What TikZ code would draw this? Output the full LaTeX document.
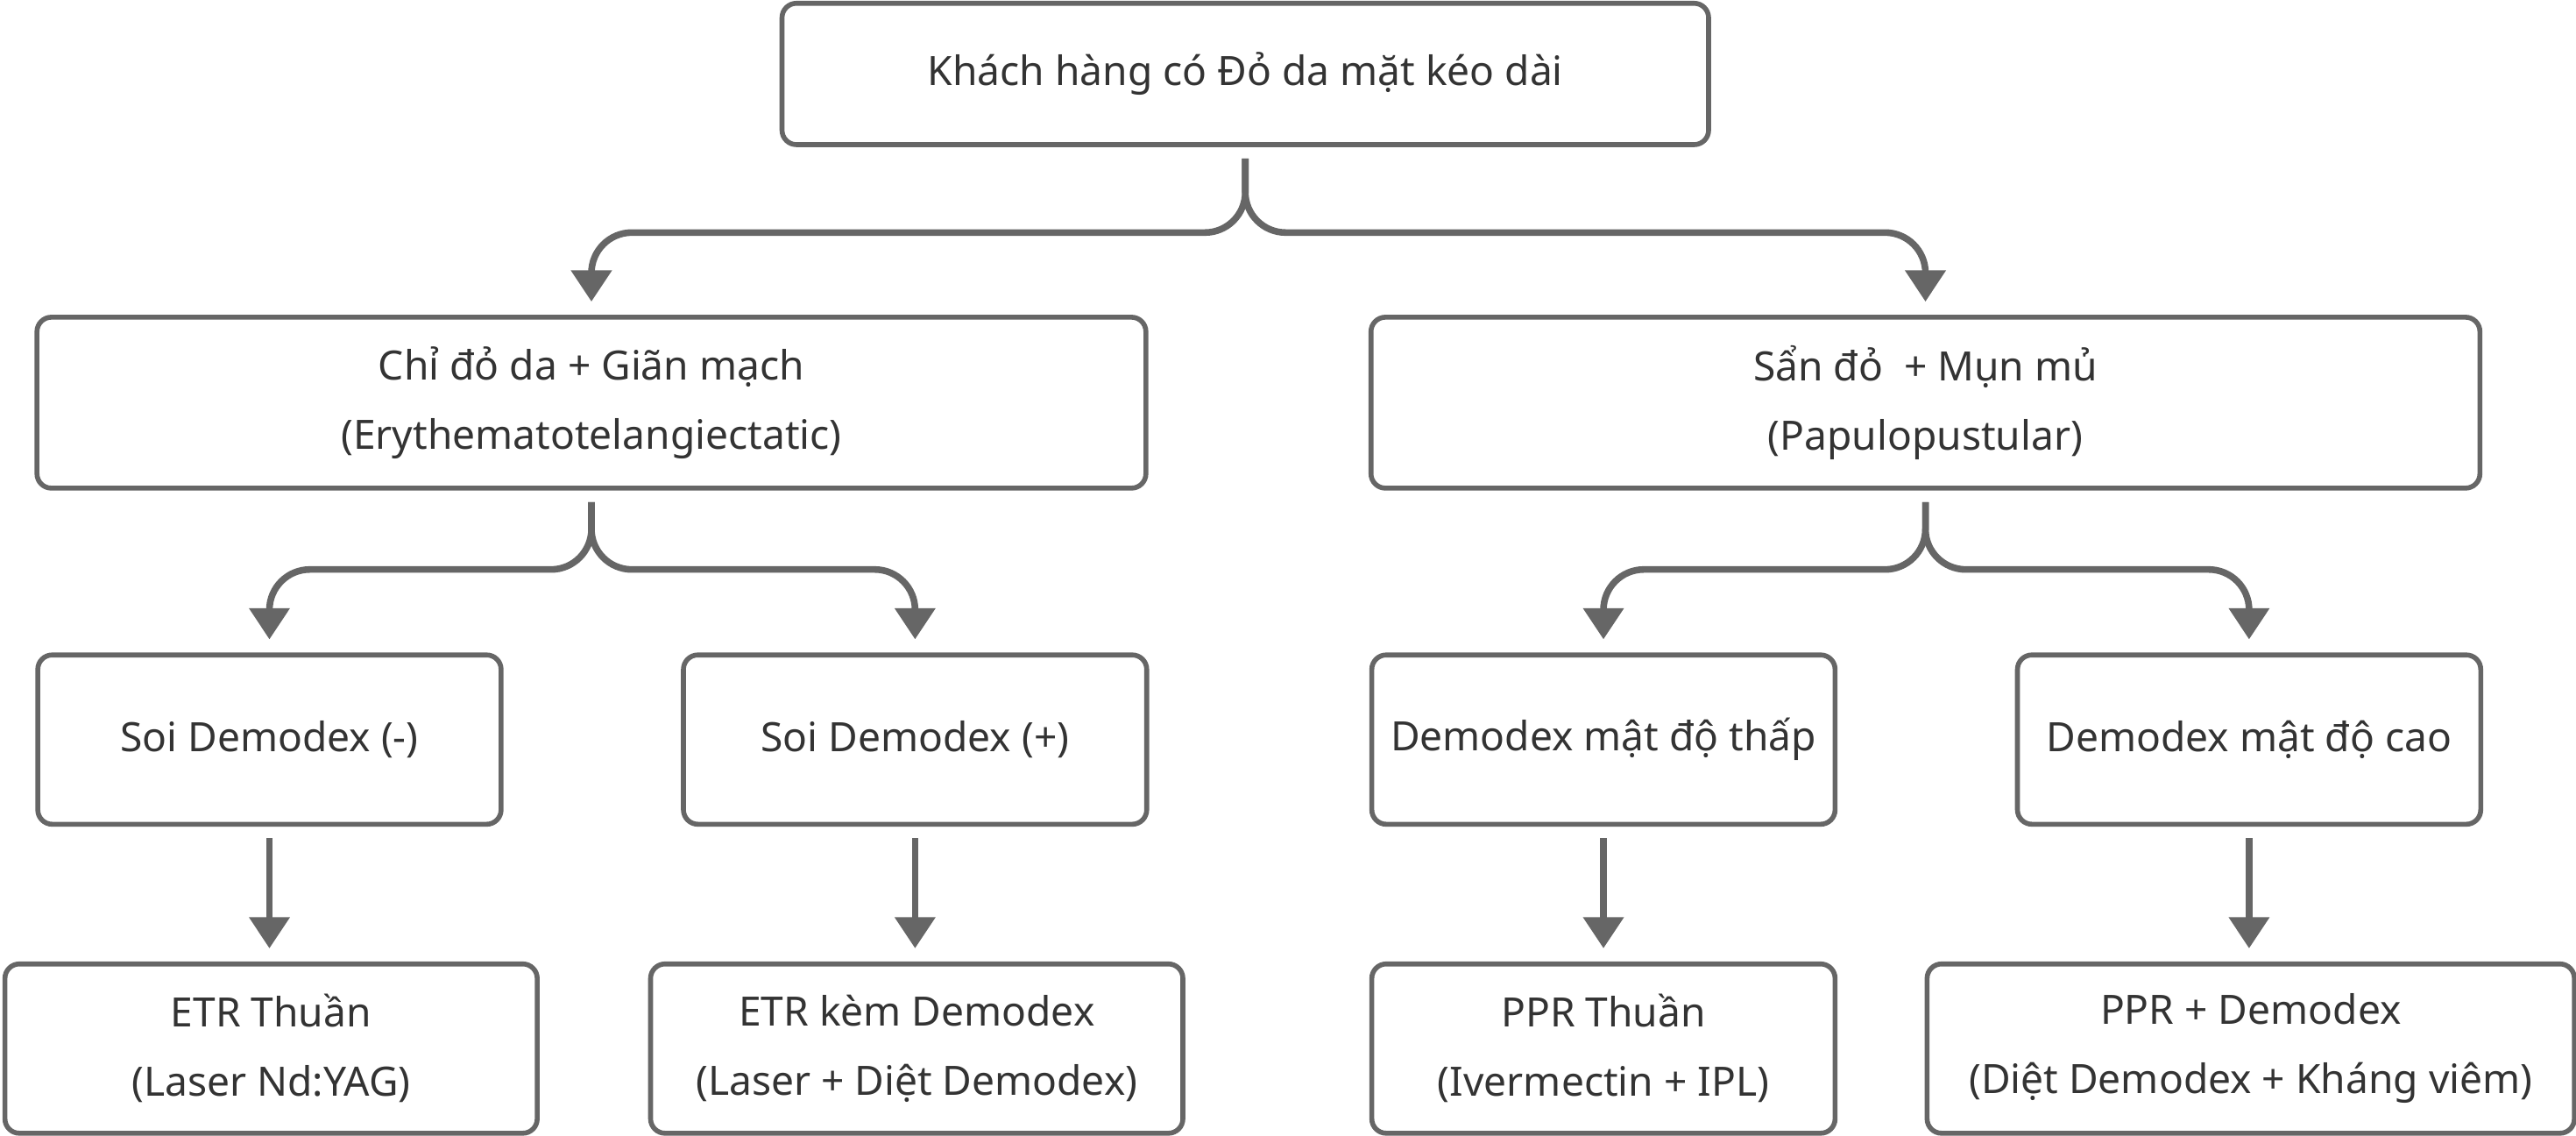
\documentclass[tikz,border=0pt]{standalone}
\usepackage{fontspec}
\setmainfont{Noto Sans}
\usetikzlibrary{arrows.meta,positioning}
\definecolor{edge}{HTML}{666666}
\definecolor{ink}{HTML}{333333}
\tikzset{
  box/.style={draw=edge, line width=1.7pt, rounded corners=5pt, fill=white, align=center,
    text=ink, font=\fontsize{14}{24}\selectfont, minimum height=2.06cm, inner sep=0pt},
  conn/.style={draw=edge, line width=2.3pt, rounded corners=14pt,
    -{Triangle[width=0.48cm,length=0.38cm]}, shorten <=0.14cm, shorten >=0.16cm},
  down/.style={conn, rounded corners=0pt}
}
\begin{document}
\begin{tikzpicture}
    \useasboundingbox (0,0) rectangle (31.36,-13.82);
    \node [box, minimum width=11.28cm, minimum height=1.72cm] (top) at (15.16,-0.9) {Khách hàng có Đỏ da mặt kéo dài};
    \node [box, minimum width=13.5cm, minimum height=2.08cm] (etr) at (7.2,-4.9) {Chỉ đỏ da + Giãn mạch\\(Erythematotelangiectatic)};
    \node [box, minimum width=13.5cm, minimum height=2.08cm] (ppr) at (23.44,-4.9) {Sẩn đỏ\ \ + Mụn mủ\\(Papulopustular)};
    \node [box, minimum width=5.64cm] (neg) at (3.28,-9.0) {Soi Demodex (-)};
    \node [box, minimum width=5.64cm] (pos) at (11.14,-9.0) {Soi Demodex (+)};
    \node [box, minimum width=5.64cm] (low) at (19.52,-9.0) {Demodex mật độ thấp};
    \node [box, minimum width=5.64cm] (high) at (27.38,-9.0) {Demodex mật độ cao};
    \node [box, minimum width=6.48cm] (etrpure) at (3.3,-12.76) {ETR Thuần\\(Laser Nd:YAG)};
    \node [box, minimum width=6.48cm] (etrdem) at (11.16,-12.76) {ETR kèm Demodex\\(Laser + Diệt Demodex)};
    \node [box, minimum width=5.64cm] (pprpure) at (19.52,-12.76) {PPR Thuần\\(Ivermectin + IPL)};
    \node [box, minimum width=7.88cm] (pprdem) at (27.4,-12.76) {PPR + Demodex\\(Diệt Demodex + Kháng viêm)};

    \draw [conn] (top.south) -- ++(0,-1.04) -| (etr.north);
    \draw [conn] (top.south) -- ++(0,-1.04) -| (ppr.north);
    \draw [conn] (etr.south) -- ++(0,-0.96) -| (neg.north);
    \draw [conn] (etr.south) -- ++(0,-0.96) -| (pos.north);
    \draw [conn] (ppr.south) -- ++(0,-0.96) -| (low.north);
    \draw [conn] (ppr.south) -- ++(0,-0.96) -| (high.north);
    \draw [down] (neg) -- (neg |- etrpure.north);
    \draw [down] (pos) -- (pos |- etrdem.north);
    \draw [down] (low) -- (low |- pprpure.north);
    \draw [down] (high) -- (high |- pprdem.north);
\end{tikzpicture}
\end{document}
